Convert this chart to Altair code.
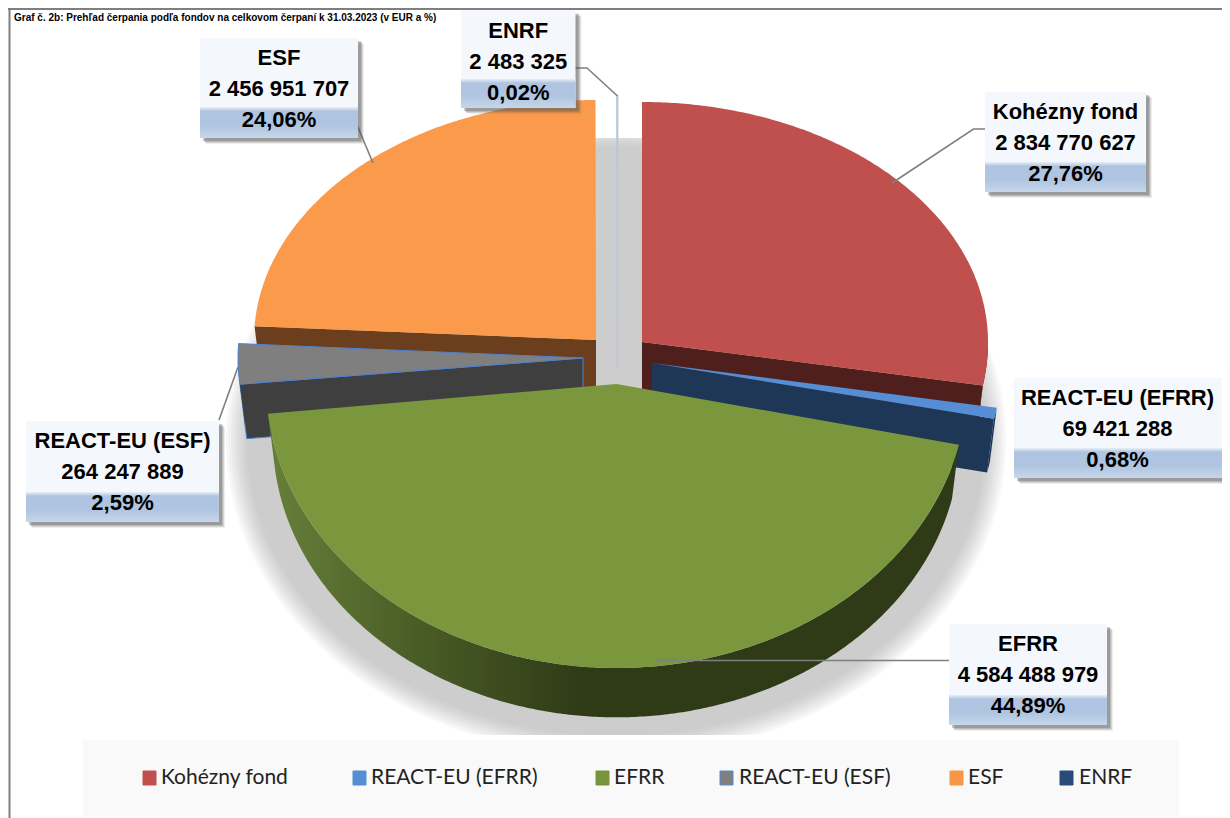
import math
import altair as alt
import pandas as pd

# ---------- data ----------
funds = ["Kohézny fond", "REACT-EU (EFRR)", "EFRR", "REACT-EU (ESF)", "ESF", "ENRF"]
amounts = [2834770627, 69421288, 4584488979, 264247889, 2456951707, 2483325]
percents = ["27,76%", "0,68%", "44,89%", "2,59%", "24,06%", "0,02%"]
title_text = "Graf č. 2b: Prehľad čerpania podľa fondov na celkovom čerpaní k 31.03.2023 (v EUR a %)"

# ---------- styles / layout (reference screen coordinates) ----------
top_colors = ["#c0504d", "#558ed5", "#7a973e", "#7f7f7f", "#fb9a4a", "#bcc7d6"]
side_colors = ["#4f1f1e", "#1f3756", "#2f3a17", "#3f3f3f", "#6b3f1d", "#bcc7d6"]
legend_colors = ["#c0504d", "#558ed5", "#77933c", "#7f7f7f", "#f79646", "#2a4a7a"]
# apex x, apex y, a, b towards back, b towards front
geo = [(642, 342, 346, 240, 252), (652, 363, 350, 260, 260), (616.5, 384, 350.5, 240, 284),
       (583, 358, 345, 250, 250), (596, 340, 342, 240, 262), (617.5, 369, 340, 273, 273)]
DEPTH, SHRINK = 55, 0.98
W, H = 1214, 810
xs = alt.Scale(domain=[8, 8 + W], range=[0, W], nice=False, zero=False)
ys = alt.Scale(domain=[8, 8 + H], range=[0, H], nice=False, zero=False)
X = lambda f="x": alt.X(f"{f}:Q", scale=xs, axis=None)
Y = lambda f="y": alt.Y(f"{f}:Q", scale=ys, axis=None)

layers = []


def poly(points, fill, stroke=None, sw=1.0, opacity=1.0):
    df = pd.DataFrame(points, columns=["x", "y"])
    df["o"] = range(len(df))
    kw = dict(fill=fill, fillOpacity=opacity, strokeWidth=sw, interpolate="linear",
              stroke=stroke if stroke else "transparent")
    layers.append(alt.Chart(df).mark_line(**kw).encode(x=X(), y=Y(), order="o:Q"))


def pt(g, th, bottom=False):
    cx, cy, a, bb, bf = g
    s, c = math.sin(math.radians(th)), math.cos(math.radians(th))
    k = SHRINK if bottom else 1
    return (cx + a * s * k, cy + (DEPTH if bottom else 0) - c * (bb if c > 0 else bf) * k)


def sweep(t0, t1):
    n = max(2, int(abs(t1 - t0) / 0.5))
    return [t0 + (t1 - t0) * i / n for i in range(n + 1)]


# soft shadow under the pie, cut off flat at the top, bottom and right like the reference
for i in range(9):
    grow = -i * 2.6
    pts = []
    for th in sweep(0, 360):
        s, c = math.sin(math.radians(th)), math.cos(math.radians(th))
        yy = 441 - c * (316 + grow)
        pts.append((min(616 + s * (390 + grow), 1013), max(min(yy, 735), 138)))
    poly(pts, "#9a9a9a", opacity=0.069)

# pie slices: angles come from the amounts
total = sum(amounts)
cum = 0
angles = []
for v in amounts:
    angles.append((cum / total * 360, (cum + v) / total * 360))
    cum += v

green_grad = alt.Gradient(gradient="linear", x1=0, x2=1, y1=0, y2=0, stops=[
    alt.GradientStop(offset=0, color="#66803a"), alt.GradientStop(offset=0.2, color="#4c5f27"),
    alt.GradientStop(offset=0.45, color="#2f3b17"), alt.GradientStop(offset=1, color="#2f3a17")])

for idx in [4, 0, 5, 3, 1, 2]:
    g = geo[idx]
    t0, t1 = angles[idx]
    apex, apex_b = (g[0], g[1]), (g[0], g[1] + DEPTH)
    edge = "#4f81d0" if idx == 3 else None
    fs = side_colors[idx]
    if idx != 5:
        if t0 > 180:
            poly([apex, pt(g, t0), pt(g, t0, True), apex_b, apex], fs, stroke=edge)
        if t1 < 180:
            poly([apex, pt(g, t1), pt(g, t1, True), apex_b, apex], fs, stroke=edge)
        a0, a1 = max(t0, 90), min(t1, 270)
        if a1 > a0:
            arc = sweep(a0, a1)
            pts = [pt(g, t) for t in arc] + [pt(g, t, True) for t in reversed(arc)]
            poly(pts + pts[:1], green_grad if idx == 2 else fs, stroke=None)
    pts = [apex] + [pt(g, t) for t in sweep(t0, t1)] + [apex]
    poly(pts, top_colors[idx], stroke=edge if idx != 5 else "#bcc7d6", sw=1.0 if idx != 5 else 1.8)

# leader lines
leaders = [
    [(892, 183), (973.5, 129), (985, 129)],
    [(357, 125), (373, 163)],
    [(575, 68), (587, 68), (617.5, 96)],
    [(219, 420), (238, 367)],
    [(655, 660.5), (949, 660.5)],
]
for pts in leaders:
    df = pd.DataFrame(pts, columns=["x", "y"])
    df["o"] = range(len(df))
    layers.append(alt.Chart(df).mark_line(stroke="#7f7f7f", strokeWidth=1.6).encode(x=X(), y=Y(), order="o:Q"))

# label boxes: x1, x2, y1, band y, y2, fund index
boxes = [(985, 1146, 92, 162, 192, 0), (1014, 1225, 378, 448, 478, 1), (949, 1107, 624, 695, 725, 2),
         (26, 219, 421, 492, 522, 3), (200, 358, 38, 107, 138, 4), (461, 575.5, 10.5, 79, 108, 5)]
band = alt.Gradient(gradient="linear", x1=0, x2=0, y1=0, y2=1, stops=[
    alt.GradientStop(offset=0, color="#e9eff7"), alt.GradientStop(offset=0.14, color="#aec4e0"),
    alt.GradientStop(offset=0.6, color="#afc5e0"), alt.GradientStop(offset=1, color="#c6d7eb")])

rows = [dict(x=b[0], x2=b[1], y=b[2], y2=b[4]) for b in boxes]
for off, op in [(6, 0.1), (5, 0.16), (4, 0.22), (3, 0.3)]:
    d = pd.DataFrame([dict(x=r["x"] + off, x2=r["x2"] + off, y=r["y"] + off, y2=r["y2"] + off) for r in rows])
    layers.append(alt.Chart(d).mark_rect(fill="#555555", opacity=op).encode(x=X(), x2="x2:Q", y=Y(), y2="y2:Q"))
layers.append(alt.Chart(pd.DataFrame(rows)).mark_rect(fill="#f4f7fb").encode(x=X(), x2="x2:Q", y=Y(), y2="y2:Q"))
for b in boxes:
    d = pd.DataFrame([dict(x=b[0], x2=b[1], y=b[3], y2=b[4])])
    layers.append(alt.Chart(d).mark_rect(fill=band).encode(x=X(), x2="x2:Q", y=Y(), y2="y2:Q"))

txt = []
for b in boxes:
    i = b[5]
    cx = (b[0] + b[1]) / 2 - (2 if i == 1 else 0)
    num = f"{amounts[i]:,}".replace(",", " ")
    for line, y in zip([funds[i], num, percents[i]], [b[2] + 20, b[2] + 51, b[2] + 82]):
        txt.append(dict(x=cx, y=y, t=line))
layers.append(alt.Chart(pd.DataFrame(txt)).mark_text(
    font="Liberation Sans", fontWeight="bold", fontSize=22, color="black", baseline="middle", align="center"
).encode(x=X(), y=Y(), text="t:N"))

# frame and heading (the reference's heading runs off the top edge; here it sits just inside the frame)
layers.append(alt.Chart(pd.DataFrame([dict(x=8, x2=1222, y=9)])).mark_rule(stroke="#7f7f7f", strokeWidth=2).encode(x=X(), x2="x2:Q", y=Y()))
layers.append(alt.Chart(pd.DataFrame([dict(x=9.5, y=9, y2=818)])).mark_rule(stroke="#7f7f7f", strokeWidth=2).encode(x=X(), y=Y(), y2="y2:Q"))
layers.append(alt.Chart(pd.DataFrame([dict(x=14, y=21, t=title_text)])).mark_text(
    font="Liberation Sans", fontWeight="bold", fontSize=10, align="left", baseline="alphabetic", color="black"
).encode(x=X(), y=Y(), text="t:N"))

# legend
leg_mark_x = [143, 353, 596, 720, 950, 1060]
leg_text_x = [161, 371, 614, 739, 968, 1079]
layers.append(alt.Chart(pd.DataFrame([dict(x=83, x2=1179, y=740, y2=816)])).mark_rect(fill="#f9f9f9").encode(x=X(), x2="x2:Q", y=Y(), y2="y2:Q"))
ld = pd.DataFrame(dict(x=leg_mark_x, x2=[v + 13 for v in leg_mark_x], y=[771] * 6, y2=[785] * 6,
                       c=legend_colors, s=["#558ed5" if i == 3 else legend_colors[i] for i in range(6)],
                       tx=leg_text_x, ty=[778] * 6, t=funds))
layers.append(alt.Chart(ld).mark_rect(strokeWidth=1).encode(
    x=X(), x2="x2:Q", y=Y(), y2="y2:Q", fill=alt.Fill("c:N", scale=None), stroke=alt.Stroke("s:N", scale=None)))
layers.append(alt.Chart(ld).mark_text(font="Lato", fontSize=21, align="left", baseline="middle", color="#222222").encode(
    x=X("tx"), y=Y("ty"), text="t:N"))

chart = alt.layer(*layers).properties(
    width=W, height=H, padding=0, background="white",
    autosize=alt.AutoSizeParams(type="none", contains="padding"),
).configure_view(stroke=None)
chart.save("out.html", embed_options={"renderer": "svg", "actions": False})
